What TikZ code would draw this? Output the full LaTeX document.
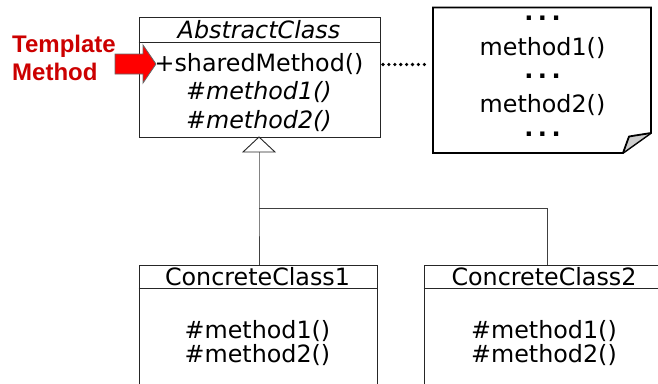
\documentclass[tikz,border=0pt]{standalone}
\usepackage{fontspec}
\setmainfont{DejaVu Sans}
\newfontfamily\arialfont{Liberation Sans}
\definecolor{tmred}{RGB}{204,0,0}
\definecolor{arrred}{RGB}{255,0,0}
\definecolor{foldgrey}{RGB}{205,205,205}
\begin{document}
\begin{tikzpicture}[x=1pt,y=-1pt,
  boxline/.style={draw=black!85, line width=0.9pt},
  connline/.style={draw=black!75, line width=0.9pt},
  txt/.style={font=\fontsize{23.8}{27}\selectfont, inner sep=0pt, anchor=base},
  itxt/.style={txt, font=\fontsize{23.8}{27}\selectfont\itshape},
  redtxt/.style={font=\arialfont\bfseries\fontsize{24}{27}\selectfont, text=tmred, inner sep=0pt, anchor=base west},
  dots/.style={txt, font=\fontsize{24}{27}\selectfont\bfseries},
]
\useasboundingbox (0,0) rectangle (658,383);
\clip (0,0) rectangle (658,383);

% Abstract class
\node[boxline, rectangle, minimum width=241pt, minimum height=120pt, anchor=north west, inner sep=0pt] (abs) at (138.5,16.5) {};
\draw[boxline] (138.5,42.5) -- (379.5,42.5);
\node[itxt] (absname) at (259,38) {AbstractClass};
\node[txt] (shared) at (259,71) {+sharedMethod()};
\node[itxt] (am1) at (259,99) {\#method1()};
\node[itxt] (am2) at (259,128) {\#method2()};

% Template Method label and arrow
\node[redtxt] (tm1) at (12,52) {Template};
\node[redtxt] (tm2) at (12,80) {Method};
\draw[fill=arrred, draw=black!60, line width=0.8pt]
  (115,54) -- (143,54) -- (143,45) -- (156,64) -- (143,83) -- (143,74) -- (115,74) -- cycle;

% Note
\coordinate (nA) at (433,7.5);
\coordinate (nB) at (651,7.5);
\coordinate (nC) at (651,133);
\coordinate (nD) at (623,153);
\coordinate (nE) at (433,153);
\draw[draw=black, line width=1.8pt, line join=miter, fill=white] (nA) -- (nB) -- (nC) -- (nD) -- (nE) -- cycle;
\draw[fill=foldgrey, draw=black, line width=1.8pt, line join=round]
  (nD) -- (629,136.5) .. controls (638,135) and (645,134) .. (nC);
\draw[black, line width=0.9pt] (nD) -- (nC);
\node[dots] (nd1) at (542.5,20) {.\hspace{4.5pt}.\hspace{4.5pt}.};
\node[txt] (nm1) at (542.5,55) {method1()};
\node[dots] (nd2) at (542.5,78) {.\hspace{4.5pt}.\hspace{4.5pt}.};
\node[txt] (nm2) at (542.5,112) {method2()};
\node[dots] (nd3) at (542.5,136) {.\hspace{4.5pt}.\hspace{4.5pt}.};
\coordinate (note) at (430,64.5);

% dotted connector
\coordinate (dstart) at (383,64.5);
\draw[black, line width=3.6pt, line cap=round, dash pattern=on 0pt off 5.9pt] (dstart) -- (note);

% Concrete classes
\node[boxline, rectangle, minimum width=238.5pt, minimum height=140pt, anchor=north west, inner sep=0pt] (cc1) at (138.5,264.5) {};
\draw[boxline] (138.5,288.5) -- (377,288.5);
\node[txt] (cc1name) at (257.5,285) {ConcreteClass1};
\node[txt] (cc1m1) at (257.5,338) {\#method1()};
\node[txt] (cc1m2) at (257.5,362) {\#method2()};

\node[boxline, rectangle, minimum width=250pt, minimum height=140pt, anchor=north west, inner sep=0pt] (cc2) at (423.5,264.5) {};
\draw[boxline] (423.5,288.5) -- (673.5,288.5);
\node[txt] (cc2name) at (544,285) {ConcreteClass2};
\node[txt] (cc2m1) at (544,338) {\#method1()};
\node[txt] (cc2m2) at (544,362) {\#method2()};

% Inheritance
\coordinate (tip) at (259,137);
\coordinate (tbase) at (259,152);
\draw[boxline, fill=white, line join=miter] (tip) -- (243,152) -- (275,152) -- cycle;
\coordinate (junc) at (259,208.5);
\coordinate (junc2) at (547,208.5);
\draw[connline] (tbase) -- (junc) -- (cc1.north -| junc);
\draw[connline] (junc) -- (junc2) -- (cc2.north -| junc2);
\end{tikzpicture}
\end{document}
